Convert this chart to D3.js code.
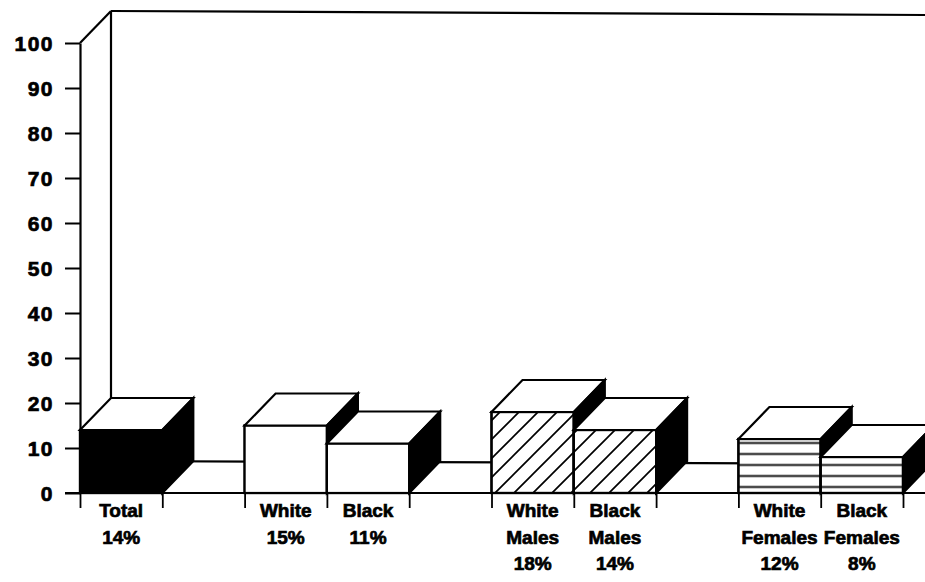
<!DOCTYPE html>
<html>
<head>
<meta charset="utf-8">
<script src="https://cdn.jsdelivr.net/npm/d3@7"></script>
<style>
  html, body { margin: 0; padding: 0; background: #fff; }
  svg { display: block; }
  text { font-family: "Liberation Sans", Arial, sans-serif; font-weight: bold; fill: #000; }
</style>
</head>
<body>
<svg id="chart" width="925" height="582"></svg>
<script>
// slots along the floor, gaps included
const slots = ["Total", "gap1", "White", "Black", "gap2", "White Males", "Black Males", "gap3", "White Females", "Black Females"];
const barSlots = ["Total", "White", "Black", "White Males", "Black Males", "White Females", "Black Females"];
const barLabels = [["Total"], ["White"], ["Black"], ["White", "Males"], ["Black", "Males"], ["White", "Females"], ["Black", "Females"]];
const barValues = [14, 15, 11, 18, 14, 12, 8];
const barFills = ["solid", "plain", "plain", "diag", "diag", "horiz", "horiz"];
const yTicks = [0, 10, 20, 30, 40, 50, 60, 70, 80, 90, 100];

const W = 925, H = 582;
const depthX = 31, depthY = 32;

const svg = d3.select("#chart");

const x = d3.scaleBand().domain(slots).range([80, 903]).padding(0);
const y = d3.scaleLinear().domain([0, 100]).range([493, 43]);
const xb = d3.scaleLinear().domain([0, slots.length]).range(x.range());

// patterns
const defs = svg.append("defs");
defs.append("pattern")
    .attr("id", "diag")
    .attr("patternUnits", "userSpaceOnUse")
    .attr("width", 19).attr("height", 19)
  .append("path")
    .attr("d", "M-4,4 L4,-4 M0,19 L19,0 M15,23 L23,15")
    .attr("stroke", "#000").attr("stroke-width", 1.7);
defs.append("pattern")
    .attr("id", "horiz")
    .attr("patternUnits", "userSpaceOnUse")
    .attr("x", 0).attr("y", 487 - 5.5)
    .attr("width", 20).attr("height", 11)
  .append("line")
    .attr("x1", 0).attr("x2", 20).attr("y1", 5.5).attr("y2", 5.5)
    .attr("stroke", "#000").attr("stroke-width", 1.8);

const fillOf = f => f === "solid" ? "#000" : f === "plain" ? "#fff" : `url(#${f})`;

// back wall and floor
const frame = svg.append("g").attr("fill", "none").attr("stroke", "#000").attr("stroke-width", 2.2);
frame.append("line")
    .attr("x1", x.range()[0]).attr("y1", y(100))
    .attr("x2", x.range()[0] + depthX).attr("y2", y(100) - depthY);
frame.append("line")
    .attr("x1", x.range()[0] + depthX).attr("y1", y(100) - depthY)
    .attr("x2", W).attr("y2", y(100) - depthY + 4);
frame.append("line")
    .attr("x1", x.range()[0] + depthX).attr("y1", y(100) - depthY)
    .attr("x2", x.range()[0] + depthX).attr("y2", y(0) - depthY);
frame.append("line")
    .attr("x1", x.range()[0] + depthX).attr("y1", y(0) - depthY)
    .attr("x2", W).attr("y2", y(0) - depthY + 3);
frame.append("line")
    .attr("x1", 65).attr("y1", y(0))
    .attr("x2", W).attr("y2", y(0));

// bars, left to right so later ones cover earlier side faces
const bars = svg.append("g").attr("stroke", "#000").attr("stroke-width", 2.2).attr("stroke-linejoin", "miter");
barSlots.forEach((s, i) => {
  const x0 = x(s), x1 = x0 + x.bandwidth();
  const yt = y(barValues[i]), yb = y(0);
  const g = bars.append("g");
  g.append("rect")
      .attr("x", x0).attr("y", yt).attr("width", x1 - x0).attr("height", yb - yt)
      .attr("fill", "#fff");
  g.append("rect")
      .attr("x", x0).attr("y", yt).attr("width", x1 - x0).attr("height", yb - yt)
      .attr("fill", fillOf(barFills[i]));
  g.append("path")
      .attr("d", `M${x0},${yt} L${x0 + depthX},${yt - depthY} L${x1 + depthX},${yt - depthY} L${x1},${yt} Z`)
      .attr("fill", "#fff");
  g.append("path")
      .attr("d", `M${x1},${yt} L${x1 + depthX},${yt - depthY} L${x1 + depthX},${yb - depthY} L${x1},${yb} Z`)
      .attr("fill", "#000");
});

// y axis
const yAxis = svg.append("g")
    .attr("transform", `translate(${x.range()[0]},0)`)
    .call(d3.axisLeft(y).tickValues(yTicks).tickSize(15).tickSizeOuter(0).tickPadding(11));
yAxis.select(".domain").attr("stroke-width", 2.2);
yAxis.selectAll(".tick line").attr("stroke-width", 2);
yAxis.selectAll(".tick text")
    .attr("font-size", 21)
    .attr("font-family", "Liberation Sans, Arial, sans-serif")
    .attr("font-weight", "bold")
    .attr("letter-spacing", 1.5)
    .attr("stroke", "#000")
    .attr("stroke-width", 0.7)
    .attr("dy", "0.36em");

// slot boundary ticks under the floor
const xAxis = svg.append("g")
    .attr("transform", `translate(0,${y(0)})`)
    .call(d3.axisBottom(xb).tickValues(d3.range(slots.length + 1)).tickSize(15).tickFormat(""));
xAxis.select(".domain").remove();
xAxis.selectAll(".tick line").attr("stroke-width", 1.8);

// category labels
const lineY = [517, 543.5, 570];
barSlots.forEach((s, i) => {
  const cx = x(s) + x.bandwidth() / 2;
  const lines = barLabels[i].concat([barValues[i] + "%"]);
  svg.append("text")
      .attr("text-anchor", "middle")
      .attr("font-size", 19)
      .attr("stroke", "#000")
      .attr("stroke-width", 0.7)
    .selectAll("tspan")
    .data(lines)
    .join("tspan")
      .attr("x", cx)
      .attr("y", (d, j) => lineY[j])
      .text(d => d);
});
</script>
</body>
</html>
